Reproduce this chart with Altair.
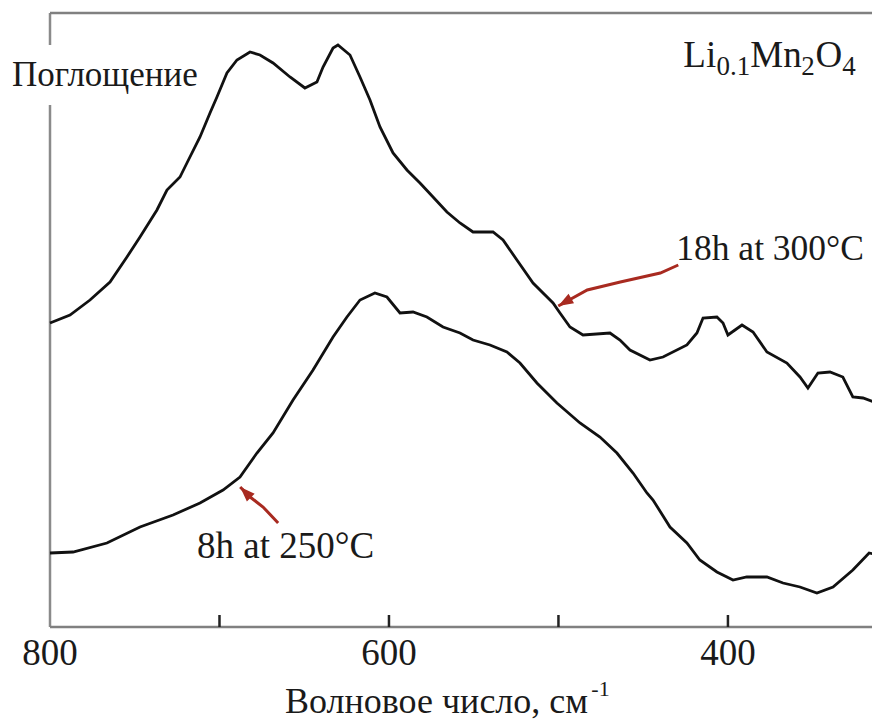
import altair as alt
import pandas as pd

# ---- data (absorbance in arbitrary units) ----
wn_18h = [800.0, 788.2, 776.4, 764.6, 754.6, 746.9, 736.9, 731.0, 723.3, 719.2,
          711.5, 705.6, 701.5, 695.6, 689.7, 682.0, 676.1, 668.4, 658.4, 649.6,
          642.5, 638.9, 633.0, 630.1, 623.0, 617.1, 611.2, 605.3, 597.6, 589.4,
          581.7, 574.0, 565.8, 558.1, 550.4, 538.6, 532.7, 524.5, 515.0, 503.2,
          499.1, 493.2, 485.5, 469.6, 463.7, 457.8, 446.0, 438.3, 424.2, 418.3,
          414.7, 406.5, 402.9, 400.0, 391.7, 385.2, 377.0, 365.2, 357.5, 352.8,
          346.9, 339.8, 332.2, 326.3, 320.3, 312.1]
abs_18h = [304, 312, 327, 345, 370, 390, 417, 437, 450, 464,
           490, 514, 530, 554, 567, 575, 572, 564, 550, 539,
           545, 560, 579, 582, 572, 550, 527, 500, 474, 457,
           444, 430, 415, 404, 395, 395, 387, 367, 344, 324,
           314, 300, 292, 294, 287, 277, 267, 270, 282, 294,
           309, 310, 304, 292, 302, 295, 275, 264, 250, 239,
           254, 255, 250, 230, 229, 224]

wn_8h = [800.0, 786.4, 766.4, 746.9, 727.4, 711.5, 697.9, 687.9, 677.9, 668.4,
         656.6, 644.8, 633.0, 624.8, 617.1, 608.3, 601.2, 593.5, 585.8, 577.6,
         568.1, 558.1, 550.4, 540.4, 530.4, 522.7, 512.7, 500.9, 487.3, 475.5,
         465.5, 456.0, 447.8, 444.2, 434.2, 424.2, 416.6, 406.5, 397.0, 388.9,
         377.0, 367.5, 357.5, 347.5, 338.0, 326.3, 316.7, 310.8]
abs_8h = [74, 75, 84, 100, 112, 124, 137, 150, 174, 194,
          227, 257, 290, 310, 327, 334, 330, 314, 315, 310,
          300, 294, 287, 282, 275, 264, 244, 224, 204, 190,
          174, 154, 134, 127, 100, 84, 67, 55, 47, 50,
          50, 44, 40, 34, 40, 57, 74, 72]

label_values = [800, 600, 400]
tick_values = [700, 600, 500, 400]

x_domain = [800, 315]
y_domain = [0, 614]

# annotation arrows (wavenumber, absorbance)
arrow_18h_wn = [429.3, 439.9, 463.5, 483.0, 500.1]
arrow_18h_a = [362, 354, 345, 337, 321]
arrow_8h_wn = [665.4, 674.3, 681.9, 687.8]
arrow_8h_a = [104, 120, 130, 140]

# ---- tables ----
spectra = pd.concat([
    pd.DataFrame({"wn": wn_18h, "a": abs_18h, "s": "18h"}),
    pd.DataFrame({"wn": wn_8h, "a": abs_8h, "s": "8h"}),
])
arrows = pd.concat([
    pd.DataFrame({"wn": arrow_18h_wn, "a": arrow_18h_a, "s": "a1"}),
    pd.DataFrame({"wn": arrow_8h_wn, "a": arrow_8h_a, "s": "a2"}),
])
heads = pd.DataFrame({"wn": [arrow_18h_wn[-1], arrow_8h_wn[-1]],
                      "a": [arrow_18h_a[-1], arrow_8h_a[-1]],
                      "ang": [240, 315]})

labels_main = pd.DataFrame({
    "t": ["8h at 250°C", "Li", "Mn", "O"],
    "wn": [713.2, 426.3, 386.8, 348.4],
    "a": [69, 560, 560, 560],
})
label_18h = pd.DataFrame({"t": ["18h at 300°C"], "wn": [430.5], "a": [367]})
labels_sub = pd.DataFrame({"t": ["0.1", "2", "4"], "wn": [406.8, 356.7, 332.5], "a": [552, 552, 552]})
ylabel = pd.DataFrame({"t": ["Поглощение"], "wn": [822.4], "a": [541]})
xtitle = pd.DataFrame({"t": ["Волновое число, см"], "wn": [661.3], "a": [-86]})
xtitle_sup = pd.DataFrame({"t": ["-1"], "wn": [480.6], "a": [-69]})
tick_labels = pd.DataFrame({"t": [str(v) for v in label_values], "wn": label_values,
                            "a": [-38] * len(label_values)})

frame_left = pd.DataFrame({"wn": [800, 800], "a": [0, 582], "a2": [522, 614]})
frame_h = pd.DataFrame({"wn": [800, 800], "wn2": [315, 315], "a": [614, 0]})
ticks = pd.DataFrame({"wn": tick_values, "a": [0] * len(tick_values), "a2": [12] * len(tick_values)})

FONT = "Liberation Serif"
xs = alt.Scale(domain=x_domain, nice=False, zero=False)
ys = alt.Scale(domain=y_domain, nice=False, zero=False)


def X(field="wn:Q"):
    return alt.X(field, scale=xs, axis=None)


def Y(field="a:Q"):
    return alt.Y(field, scale=ys, axis=None)


lines = alt.Chart(spectra).mark_line(color="#111111", strokeWidth=2.8).encode(
    x=X(), y=Y(), detail="s:N")

left_rule = alt.Chart(frame_left).mark_rule(color="#8a8a8a", strokeWidth=2.5).encode(
    x=X(), y=Y(), y2="a2:Q")
h_rules = alt.Chart(frame_h).mark_rule(color="#808080", strokeWidth=2.6).encode(
    x=X(), x2="wn2:Q", y=Y())
tick_rule = alt.Chart(ticks).mark_rule(color="#222222", strokeWidth=2.5).encode(
    x=X(), y=Y(), y2="a2:Q")

arrow_lines = alt.Chart(arrows).mark_line(color="#a82a20", strokeWidth=3).encode(
    x=X(), y=Y(), detail="s:N")
arrow_heads = alt.Chart(heads).mark_point(
    shape="M0,0L0.55,1.5L-0.55,1.5Z", filled=True, color="#a82a20", size=400, opacity=1
).encode(x=X(), y=Y(), angle=alt.Angle("ang:Q", scale=None))


def txt(df, size, align="left"):
    return alt.Chart(df).mark_text(font=FONT, fontSize=size, align=align,
                                   baseline="alphabetic", color="#1a1a1a").encode(
        x=X(), y=Y(), text="t:N")


chart = alt.layer(
    left_rule, h_rules, tick_rule, lines, arrow_lines, arrow_heads,
    txt(labels_main, 37), txt(label_18h, 35.5), txt(labels_sub, 27), txt(ylabel, 35),
    txt(xtitle, 36), txt(xtitle_sup, 22), txt(tick_labels, 37, "center"),
).properties(
    width=822, height=614,
    padding={"left": 42, "top": 5, "right": 0, "bottom": 95},
    autosize=alt.AutoSizeParams(type="none"),
).configure_view(strokeWidth=0)

chart.save("out.html", embed_options={"renderer": "svg", "actions": False})
